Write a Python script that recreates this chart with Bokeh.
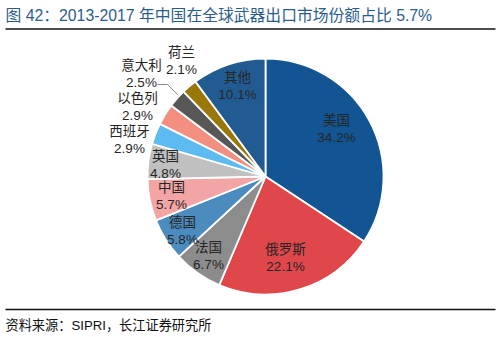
import math
from bokeh.plotting import figure
from bokeh.models import Range1d, Label, ColumnDataSource
from bokeh.core.properties import value
from bokeh.embed import file_html
from bokeh.resources import INLINE

# ---- data ----
countries = ["美国", "俄罗斯", "法国", "德国", "中国", "英国", "西班牙", "以色列", "意大利", "荷兰", "其他"]
shares = [34.2, 22.1, 6.7, 5.8, 5.7, 4.8, 2.9, 2.9, 2.5, 2.1, 10.1]
colors = ["#135592", "#DF474B", "#8C8C8C", "#4B8BBE", "#F3A5A6", "#C0C0C0",
          "#5DBBF1", "#F38F81", "#575757", "#9A7709", "#215B92"]
title_text = "图 42：2013-2017 年中国在全球武器出口市场份额占比 5.7%"
source_text = "资料来源：SIPRI，长江证券研究所"

# ---- layout (pixel coordinates, y measured from top) ----
W, H = 500, 337
CX, CY, R = 265, 176, 118
label_pos = {
    "美国": (336, 128.5), "俄罗斯": (285, 257), "法国": (208, 255), "德国": (182, 230.5),
    "中国": (171, 195.5), "英国": (165, 164), "西班牙": (129, 139), "以色列": (137, 106),
    "意大利": (141, 73.5), "荷兰": (181, 60), "其他": (237, 85),
}
FONT = "Liberation Sans, Arial, Noto Sans CJK SC"


def fy(y):
    return H - y


p = figure(width=W, height=H, output_backend="svg", toolbar_location=None,
           x_range=Range1d(0, W), y_range=Range1d(0, H), min_border=0,
           outline_line_color=None, background_fill_color="white")
p.axis.visible = False
p.grid.visible = False

total = sum(shares)
starts, ends = [], []
cum = 0.0
for s in shares:
    starts.append(math.pi / 2 - 2 * math.pi * cum / total)
    cum += s
    ends.append(math.pi / 2 - 2 * math.pi * cum / total)

src = ColumnDataSource(dict(start=starts, end=ends, color=colors))
p.wedge(x=CX, y=fy(CY), radius=R, start_angle="start", end_angle="end",
        direction="clock", fill_color="color", line_color="white", line_width=1.8,
        source=src)

# leader line for 意大利
p.line(x=[157, 167, 177], y=[fy(84), fy(84), fy(94)], line_color="#888888", line_width=1)

for name, s in zip(countries, shares):
    x, y = label_pos[name]
    p.text(x=[x], y=[fy(y) + 8.5], text=[name], text_font=value(FONT), text_font_size="13.5px",
           text_align="center", text_baseline="middle", text_color="#262626")
    p.text(x=[x], y=[fy(y) - 8.5], text=[f"{s:.1f}%"], text_font=value(FONT), text_font_size="13.5px",
           text_align="center", text_baseline="middle", text_color="#262626")

# title and rules
p.add_layout(Label(x=5, y=fy(15), text=title_text, text_font=FONT, text_font_size="15.8px",
                   text_color="#2B5D8C", text_baseline="middle"))
p.line(x=[5, 495], y=[fy(28.5), fy(28.5)], line_color="#111111", line_width=1.5)
p.line(x=[5, 495], y=[fy(309), fy(309)], line_color="#111111", line_width=1.5)
p.add_layout(Label(x=5, y=fy(325), text=source_text, text_font=FONT, text_font_size="13.2px",
                   text_color="#111111", text_baseline="middle"))

open("out.html", "w").write(file_html(p, INLINE))
